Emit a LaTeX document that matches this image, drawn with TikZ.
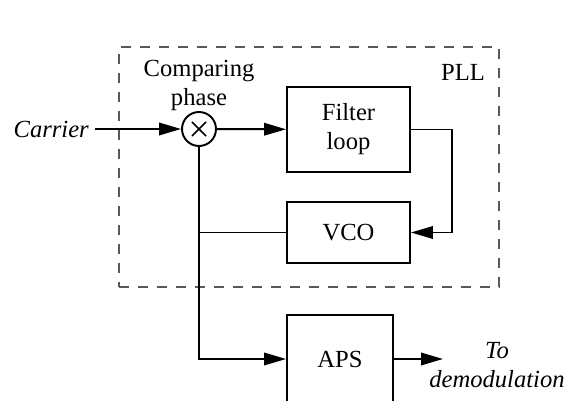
\documentclass[tikz,border=0pt]{standalone}
\usepackage{fontspec}
\setmainfont{Liberation Serif}
\usetikzlibrary{arrows.meta, positioning, calc}

\newcommand{\diagfont}{\fontsize{14}{16.5}\selectfont}

\tikzset{
  block/.style={rectangle, draw, line width=1.1pt, minimum width=2.46cm, align=center},
  wire/.style={line width=1.1pt},
  arr/.style={wire, -{Triangle[length=0.44cm, width=0.25cm]}},
  every node/.style={font=\diagfont},
}

\begin{document}
\begin{tikzpicture}[x=0.02cm, y=-0.02cm]
\useasboundingbox (0,0) rectangle (567,401);

\node[draw=black!65, dash pattern=on 0.2cm off 0.18cm, line width=1pt, minimum width=7.6cm, minimum height=4.8cm] (pll) at (309,167) {};
\node (plltext) at (463,72) {PLL};

\node[circle, draw, line width=1.1pt, minimum size=0.68cm, inner sep=0pt] (mix) at (199,129) {};
\draw[line width=0.9pt] ($(mix.center)+(-7,-7)$) -- ($(mix.center)+(7,7)$);
\draw[line width=0.9pt] ($(mix.center)+(-7,7)$) -- ($(mix.center)+(7,-7)$);
\node[align=center] (cmp) at (199,85) {Comparing\\phase};

\node[block, minimum height=1.7cm] (filter) at (348.5,129.5) {Filter\\loop};
\node[block, minimum height=1.22cm] (vco) at (348.5,232.5) {VCO};
\node[block, minimum width=2.12cm, minimum height=1.76cm] (aps) at (340,359) {APS};

\node[anchor=east, font=\diagfont\itshape] (carrier) at (95,129) {Carrier};
\node[align=center, font=\diagfont\itshape] (dest) at (497,365) {To\\demodulation};

\coordinate (fb) at (452,232.5);
\coordinate (tap) at (199,232.5);
\coordinate (out) at (443,359);

%connections
\draw[arr] (carrier) -- (mix);
\draw[arr] (mix) -- (filter);
\draw[arr] (filter.east) -| (fb) -- (vco.east);
\draw[wire] (tap) -- (vco.west);
\draw[arr] (mix.south) |- (aps.west);
\draw[arr] (aps.east) -- (out);
\end{tikzpicture}
\end{document}
